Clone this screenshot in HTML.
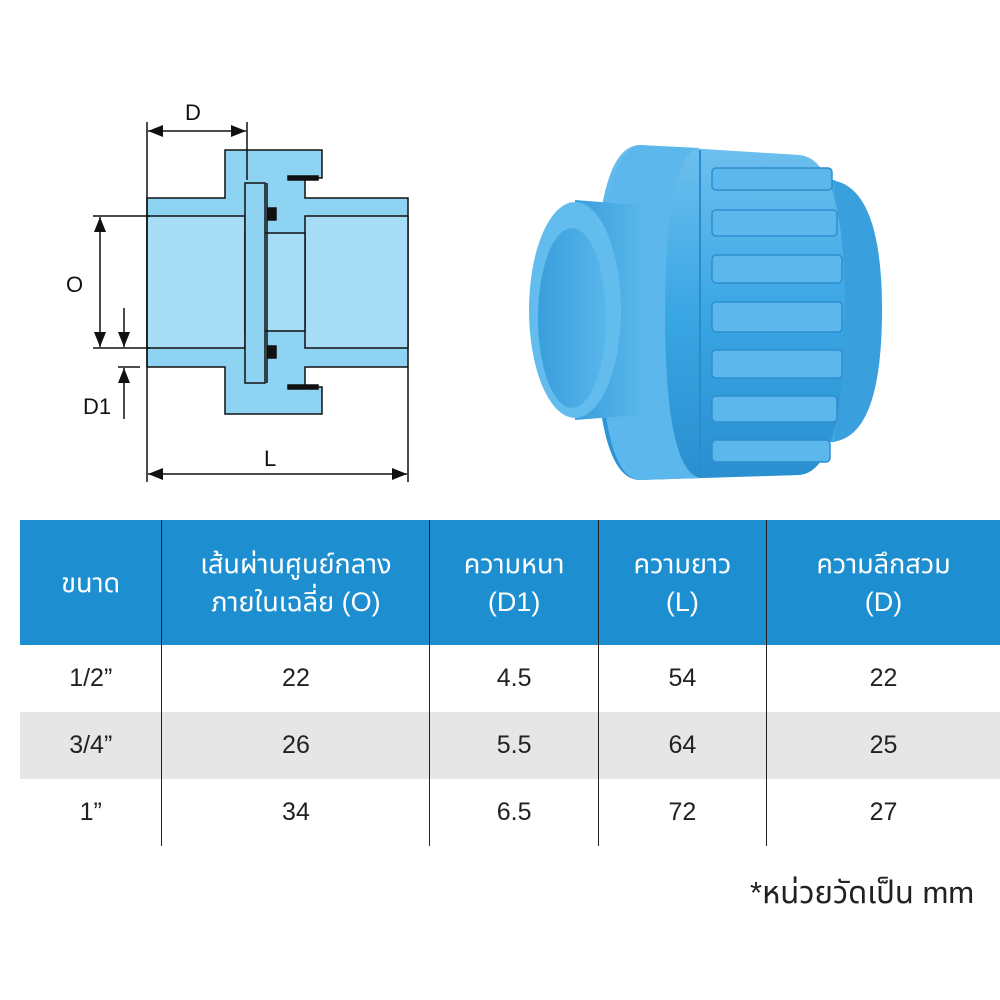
<!DOCTYPE html>
<html><head><meta charset="utf-8"><style>
body{margin:0;width:1000px;height:1000px;background:#fff;overflow:hidden;font-family:"Liberation Sans",sans-serif}
#t{position:absolute;left:20px;top:520px;border-collapse:collapse;font-family:"Liberation Sans","Noto Sans Thai","Noto Sans CJK JP",sans-serif}
#t td{border-left:1.5px solid #222;text-align:center;font-size:25px;color:#222;padding:0}
#t tr.h td{background:#1d8fd1;color:#fff;height:125px;font-size:27px;line-height:38px}
#t tr.r td{height:67px}
#t tr.g td{background:#e6e6e6}
#t td:first-child{border-left:none}
</style></head><body>
<svg width="1000" height="520" style="position:absolute;left:0;top:0">
<defs>
<marker id="a" markerWidth="10" markerHeight="8" refX="10" refY="4" orient="auto-start-reverse"><path d="M0,0 L10,4 L0,8z" fill="#111"/></marker>
<linearGradient id="g" x1="0" y1="0" x2="0" y2="1"><stop offset="0" stop-color="#6ec0ee"/><stop offset=".5" stop-color="#3aa6e4"/><stop offset="1" stop-color="#2a8fd0"/></linearGradient>
<linearGradient id="p" x1="0" y1="0" x2="1" y2="0"><stop offset="0" stop-color="#3a9edc"/><stop offset="1" stop-color="#58b6ea"/></linearGradient>
</defs>
<g stroke="#111" stroke-width="1.5" fill="#8fd3f3">
<path d="M225,150 L322,150 L322,178 L305,178 L305,198 L408,198 L408,367 L305,367 L305,387 L322,387 L322,414 L225,414 L225,367 L147,367 L147,198 L225,198Z"/>
<rect x="147" y="216" width="98" height="132" fill="#a6dcf6"/>
<rect x="305" y="216" width="103" height="132" fill="#a6dcf6"/>
<rect x="245" y="233" width="60" height="98" fill="#a6dcf6"/>
<rect x="245" y="183" width="20" height="200"/>
<line x1="267" y1="183" x2="267" y2="383"/>
<rect x="268" y="208" width="8" height="12" fill="#111"/>
<rect x="268" y="346" width="8" height="12" fill="#111"/>
<rect x="288" y="176" width="30" height="4" fill="#111"/>
<rect x="288" y="385" width="30" height="4" fill="#111"/>
</g>
<g stroke="#111" stroke-width="1.5" fill="none">
<line x1="147" y1="122" x2="147" y2="482"/><line x1="247" y1="122" x2="247" y2="180"/>
<line x1="408" y1="367" x2="408" y2="482"/>
<line x1="148" y1="131" x2="246" y2="131" marker-start="url(#a)" marker-end="url(#a)"/>
<line x1="148" y1="474" x2="407" y2="474" marker-start="url(#a)" marker-end="url(#a)"/>
<line x1="93" y1="216" x2="150" y2="216"/><line x1="93" y1="348" x2="150" y2="348"/>
<line x1="100" y1="217" x2="100" y2="347" marker-start="url(#a)" marker-end="url(#a)"/>
<line x1="118" y1="367" x2="140" y2="367"/>
<line x1="124" y1="308" x2="124" y2="347" marker-end="url(#a)"/>
<line x1="124" y1="419" x2="124" y2="368" marker-end="url(#a)"/>
</g>
<g font-size="22" fill="#111"><text x="185" y="120">D</text><text x="264" y="466">L</text><text x="66" y="292">O</text><text x="83" y="414">D1</text></g>
<path d="M830,180 Q882,185 882,310 Q882,440 830,442Z" fill="#3a9fdd"/>
<rect x="790" y="180" width="45" height="262" fill="#3fa7e2"/>
<path d="M640,145 L800,155 Q845,160 845,310 Q845,470 800,475 L640,480 Q595,480 595,312 Q595,145 640,145Z" fill="url(#g)"/>
<path d="M640,145 Q600,150 600,312 Q600,478 640,480 L700,478 Q665,470 665,312 Q665,155 700,148Z" fill="#5cb8ec"/>
<g stroke="#2a8ccb" stroke-width="2"><line x1="700" y1="150" x2="700" y2="478"/></g>
<g fill="#5bb7ec" stroke="#2d8fcf" stroke-width="1.5">
<rect x="712" y="168" width="120" height="22" rx="4"/><rect x="712" y="210" width="125" height="26" rx="4"/><rect x="712" y="255" width="130" height="28" rx="4"/><rect x="712" y="302" width="130" height="30" rx="4"/><rect x="712" y="350" width="130" height="28" rx="4"/><rect x="712" y="396" width="125" height="26" rx="4"/><rect x="712" y="440" width="118" height="22" rx="4"/>
</g>
<path d="M575,200 L640,205 L640,415 L575,420Z" fill="url(#p)"/>
<ellipse cx="575" cy="310" rx="46" ry="108" fill="#62bdee"/>
<ellipse cx="572" cy="318" rx="34" ry="90" fill="url(#p)"/>
</svg>
<table id="t">
<tr class="h"><td style="width:142px">ขนาด</td><td style="width:268px">เส้นผ่านศูนย์กลาง<br>ภายในเฉลี่ย (O)</td><td style="width:168px">ความหนา<br>(D1)</td><td style="width:168px">ความยาว<br>(L)</td><td style="width:234px">ความลึกสวม<br>(D)</td></tr>
<tr class="r"><td>1/2”</td><td>22</td><td>4.5</td><td>54</td><td>22</td></tr>
<tr class="r g"><td>3/4”</td><td>26</td><td>5.5</td><td>64</td><td>25</td></tr>
<tr class="r"><td>1”</td><td>34</td><td>6.5</td><td>72</td><td>27</td></tr>
</table>
<div style="position:absolute;left:750px;top:870px;font-size:31px;color:#222;font-family:'Liberation Sans','Noto Sans Thai',sans-serif">*หน่วยวัดเป็น mm</div>
</body></html>
